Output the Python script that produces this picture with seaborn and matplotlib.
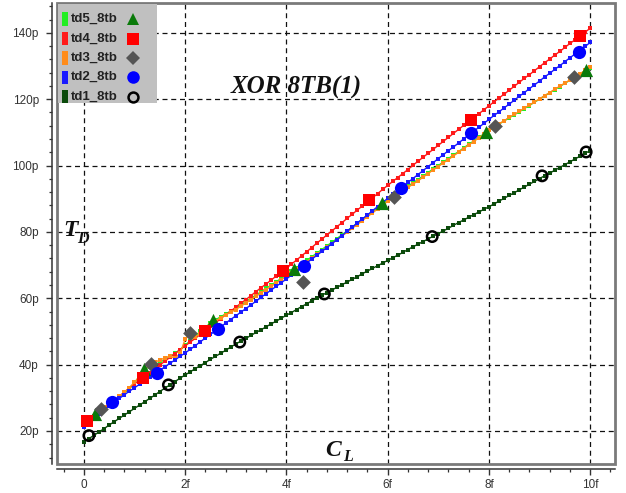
import numpy as np
import pandas as pd
import matplotlib
matplotlib.use("Agg")
import matplotlib.pyplot as plt
import seaborn as sns
from matplotlib.patches import Rectangle
from matplotlib.lines import Line2D
from matplotlib.ticker import MultipleLocator, FixedLocator, FixedFormatter

# ---------------- data (x in fF, y in ps) ----------------
cl = np.round(np.arange(0, 101) * 0.1, 1)  # load capacitance sweep 0..10f

td5 = [21.6, 22.9, 24.2, 25.5, 26.7, 27.9, 29.0, 30.2, 31.4, 32.7,
       34.3, 36.8, 38.6, 39.4, 40.0, 40.7, 41.5, 42.4, 43.4, 44.5,
       45.8, 47.2, 48.6, 50.0, 51.3, 52.5, 53.5, 54.4, 55.3, 56.1,
       57.0, 58.0, 59.0, 60.0, 61.0, 62.0, 63.0, 64.0, 65.0, 66.0,
       67.0, 68.1, 69.2, 70.3, 71.4, 72.5, 73.6, 74.7, 75.8, 76.9,
       78.0, 79.2, 80.3, 81.5, 82.6, 83.8, 85.0, 86.1, 87.3, 88.4,
       89.6, 90.6, 91.7, 92.7, 93.8, 94.8, 95.8, 96.9, 97.9, 99.0,
       100.0, 101.1, 102.1, 103.2, 104.2, 105.3, 106.4, 107.4, 108.5, 109.5,
       110.6, 111.5, 112.5, 113.4, 114.4, 115.3, 116.2, 117.2, 118.1, 119.1,
       120.0, 121.0, 121.9, 122.9, 123.8, 124.8, 125.7, 126.7, 127.6, 128.6,
       129.5]

td4 = [21.8, 23.0, 24.3, 25.5, 26.8, 28.0, 29.2, 30.5, 31.7, 33.0,
       34.2, 35.3, 36.5, 37.6, 38.8, 39.9, 41.0, 42.2, 43.3, 44.5,
       45.6, 46.8, 47.9, 49.1, 50.3, 51.5, 52.6, 53.8, 55.0, 56.1,
       57.3, 58.5, 59.6, 60.8, 62.0, 63.2, 64.3, 65.5, 66.7, 67.8,
       69.0, 70.3, 71.5, 72.8, 74.0, 75.3, 76.6, 77.8, 79.1, 80.3,
       81.6, 82.8, 84.1, 85.3, 86.6, 87.8, 89.0, 90.3, 91.5, 92.8,
       94.0, 95.2, 96.4, 97.6, 98.8, 100.1, 101.3, 102.5, 103.7, 104.9,
       106.1, 107.3, 108.5, 109.7, 110.9, 112.1, 113.2, 114.4, 115.6, 116.8,
       118.0, 119.2, 120.4, 121.5, 122.7, 123.9, 125.1, 126.3, 127.4, 128.6,
       129.8, 131.0, 132.1, 133.3, 134.4, 135.6, 136.8, 137.9, 139.1, 140.2,
       141.4]

td3 = [21.8, 23.2, 24.6, 25.9, 27.1, 28.2, 29.3, 30.4, 31.7, 33.1,
       34.7, 36.4, 38.2, 40.1, 40.7, 41.4, 42.0, 42.6, 41.9, 43.4,
       47.6, 49.6, 48.4, 49.2, 50.6, 52.0, 53.1, 54.1, 55.0, 55.8,
       56.6, 57.6, 58.6, 59.6, 60.6, 61.6, 62.6, 63.6, 64.6, 65.6,
       66.6, 67.7, 68.8, 69.9, 71.0, 72.1, 73.2, 74.3, 75.4, 76.5,
       77.6, 78.8, 79.9, 81.1, 82.2, 83.4, 84.6, 85.7, 86.9, 88.0,
       89.2, 90.2, 91.3, 92.3, 93.4, 94.4, 95.4, 96.5, 97.6, 98.7,
       99.7, 100.8, 101.8, 102.9, 104.0, 105.1, 106.2, 107.2, 108.4, 109.4,
       110.6, 111.6, 112.6, 113.5, 114.5, 115.4, 116.3, 117.3, 118.2, 119.2,
       120.1, 121.1, 122.0, 123.0, 123.9, 124.9, 125.8, 126.8, 127.7, 128.7,
       129.6]

td2 = [21.2, 22.5, 23.8, 25.0, 26.3, 27.5, 28.7, 29.8, 30.9, 32.0,
       33.0, 34.1, 35.1, 36.2, 37.2, 38.3, 39.3, 40.4, 41.4, 42.5,
       43.5, 44.6, 45.7, 46.9, 48.0, 49.1, 50.2, 51.3, 52.5, 53.6,
       54.7, 55.8, 56.9, 58.0, 59.1, 60.3, 61.4, 62.5, 63.6, 64.7,
       65.8, 67.0, 68.2, 69.4, 70.6, 71.8, 72.9, 74.1, 75.3, 76.5,
       77.7, 78.9, 80.2, 81.4, 82.7, 83.9, 85.1, 86.4, 87.6, 88.9,
       90.1, 91.3, 92.5, 93.7, 94.9, 96.1, 97.3, 98.5, 99.7, 100.9,
       102.1, 103.3, 104.5, 105.6, 106.8, 108.0, 109.2, 110.4, 111.5, 112.7,
       113.9, 115.1, 116.2, 117.4, 118.5, 119.7, 120.9, 122.0, 123.2, 124.3,
       125.5, 126.7, 127.8, 129.0, 130.1, 131.3, 132.5, 133.6, 134.8, 135.9,
       137.1]

td1 = [16.7, 17.7, 18.7, 19.7, 20.7, 21.8, 22.8, 23.8, 24.8, 25.8,
       26.8, 27.8, 28.8, 29.8, 30.8, 31.9, 32.9, 33.9, 34.9, 35.9,
       36.9, 37.8, 38.8, 39.7, 40.6, 41.6, 42.5, 43.4, 44.3, 45.3,
       46.2, 47.1, 47.9, 48.8, 49.7, 50.5, 51.4, 52.3, 53.1, 54.0,
       54.9, 55.7, 56.6, 57.5, 58.3, 59.2, 60.1, 60.9, 61.7, 62.5,
       63.3, 64.1, 64.9, 65.7, 66.5, 67.4, 68.2, 69.0, 69.8, 70.6,
       71.4, 72.2, 73.0, 73.8, 74.7, 75.5, 76.3, 77.1, 77.9, 78.7,
       79.5, 80.3, 81.1, 82.0, 82.8, 83.6, 84.4, 85.2, 86.0, 86.8,
       87.6, 88.4, 89.3, 90.1, 91.0, 91.8, 92.7, 93.5, 94.4, 95.2,
       96.1, 96.9, 97.7, 98.6, 99.4, 100.3, 101.1, 102.0, 102.8, 103.7,
       104.5]

# sparse identification markers
td5_mx = [0.22, 1.19, 2.56, 4.15, 5.88, 7.94, 9.92]
td5_my = [25.0, 38.8, 53.6, 68.7, 88.6, 110.0, 128.7]
td4_mx = [0.07, 1.17, 2.39, 3.93, 5.64, 7.64, 9.79]
td4_my = [22.9, 36.1, 50.2, 68.2, 89.5, 113.7, 139.1]
td3_mx = [0.34, 1.32, 2.09, 4.33, 6.13, 8.12, 9.69]
td3_my = [26.5, 40.3, 49.5, 65.0, 90.4, 111.8, 126.8]
td2_mx = [0.56, 1.44, 2.65, 4.35, 6.26, 7.65, 9.77]
td2_my = [28.6, 37.4, 50.8, 69.8, 93.2, 109.8, 134.3]
td1_mx = [0.10, 1.67, 3.08, 4.75, 6.88, 9.05, 9.92]
td1_my = [18.6, 33.9, 46.8, 61.3, 78.6, 96.9, 104.1]

series_names = ["td5_8tb", "td4_8tb", "td3_8tb", "td2_8tb", "td1_8tb"]
x_ticks = [0, 2, 4, 6, 8, 10]
x_labels = ["0", "2f", "4f", "6f", "8f", "10f"]
y_ticks = [20, 40, 60, 80, 100, 120, 140]
y_labels = ["20p", "40p", "60p", "80p", "100p", "120p", "140p"]
title = "XOR 8TB(1)"

# ---------------- styling ----------------
W, H = 626, 493
fig = plt.figure(figsize=(W / 100, H / 100), dpi=100)
fig.patch.set_facecolor("white")
L, R, T, B = 57, 615, 3, 464
ax = fig.add_axes([L / W, 1 - B / H, (R - L) / W, (B - T) / H])
ax.set_facecolor("white")

line_cols = ["#22ee22", "#ff1a1a", "#ff8c1a", "#1a1aff", "#0b4a0b"]
mk_face = ["#0a7a0a", "#ff0000", "#555555", "#0000ff", "none"]
mk_edge = ["#0a7a0a", "#ff0000", "#555555", "#0000ff", "#000000"]
mk_shape = ["^", "s", "D", "o", "o"]
mk_size = [9.5, 9.0, 7.5, 9.5, 7.5]

ys = [td5, td4, td3, td2, td1]
mxs = [td5_mx, td4_mx, td3_mx, td2_mx, td1_mx]
mys = [td5_my, td4_my, td3_my, td2_my, td1_my]

for i in range(5):
    df = pd.DataFrame({"cl": cl, "td": ys[i]})
    sns.lineplot(data=df, x="cl", y="td", ax=ax, color=line_cols[i],
                 linewidth=1.0, marker="s", markersize=2.7,
                 markeredgewidth=0, markerfacecolor=line_cols[i],
                 zorder=2 + i * 0.1, legend=False, sort=False)

for i in range(5):
    dm = pd.DataFrame({"cl": mxs[i], "td": mys[i]})
    if mk_face[i] == "none":
        sns.scatterplot(data=dm, x="cl", y="td", ax=ax, marker=mk_shape[i],
                        s=mk_size[i] ** 2, facecolors="none",
                        edgecolor=mk_edge[i], linewidth=1.8, zorder=4,
                        legend=False)
    else:
        sns.scatterplot(data=dm, x="cl", y="td", ax=ax, marker=mk_shape[i],
                        s=mk_size[i] ** 2, color=mk_face[i],
                        edgecolor=mk_edge[i], linewidth=0, zorder=4,
                        legend=False)

ax.set_xlim(-0.53, 10.49)
ax.set_ylim(10.05, 149.0)
ax.set_xlabel("")
ax.set_ylabel("")

ax.xaxis.set_major_locator(FixedLocator(x_ticks))
ax.xaxis.set_major_formatter(FixedFormatter(x_labels))
ax.xaxis.set_minor_locator(MultipleLocator(0.4))
ax.yaxis.set_major_locator(FixedLocator(y_ticks))
ax.yaxis.set_major_formatter(FixedFormatter(y_labels))
ax.yaxis.set_minor_locator(MultipleLocator(4))

ax.grid(True, which="major", color="#111111", linestyle=(0, (4, 3)),
        linewidth=0.9)
ax.set_axisbelow(True)

for s in ["top", "right"]:
    ax.spines[s].set_visible(False)
for s in ["left", "bottom"]:
    ax.spines[s].set_position(("outward", 3.6))
    ax.spines[s].set_color("#333333")
    ax.spines[s].set_linewidth(1.1)

ax.tick_params(axis="both", which="major", direction="out", length=4.5,
               width=1.0, color="#333333", labelsize=8.5,
               labelcolor="#333333")
ax.tick_params(axis="both", which="minor", direction="out", length=2.5,
               width=0.9, color="#333333")
ax.tick_params(axis="x", which="major", pad=3)
ax.tick_params(axis="y", which="major", pad=5)
for lab in ax.get_xticklabels() + ax.get_yticklabels():
    lab.set_fontfamily("Liberation Sans")

# plot frame
ax.add_patch(Rectangle((0, 0), 1, 1, transform=ax.transAxes, fill=False,
                       edgecolor="#7a7a7a", linewidth=2.0, clip_on=False,
                       zorder=6))


def fx(px):
    return px / W


def fy(py):
    return 1 - py / H


# title and axis annotations
fig.text(fx(296), fy(87), title, ha="center", va="center",
         fontfamily="Liberation Serif", fontweight="bold", fontstyle="italic",
         fontsize=18, color="#111111")
fig.text(fx(63), fy(231), "T", ha="left", va="center",
         fontfamily="Liberation Serif", fontweight="bold", fontstyle="italic",
         fontsize=17, color="#111111")
fig.text(fx(77), fy(239), "D", ha="left", va="center",
         fontfamily="Liberation Serif", fontweight="bold", fontstyle="italic",
         fontsize=11.5, color="#111111")
fig.text(fx(325), fy(450), "C", ha="left", va="center",
         fontfamily="Liberation Serif", fontweight="bold", fontstyle="italic",
         fontsize=17, color="#111111")
fig.text(fx(343), fy(457), "L", ha="left", va="center",
         fontfamily="Liberation Serif", fontweight="bold", fontstyle="italic",
         fontsize=11.5, color="#111111")

# legend box (drawn manually: swatch, label, marker)
fig.add_artist(Rectangle((fx(58), fy(103)), (157 - 58) / W, (103 - 4) / H,
                         transform=fig.transFigure, facecolor="#c0c0c0",
                         edgecolor="none", zorder=7))
row_y = [19, 38.5, 58, 77, 96.5]
for i in range(5):
    yy = row_y[i]
    fig.add_artist(Rectangle((fx(62), fy(yy + 6.5)), 6 / W, 13 / H,
                             transform=fig.transFigure,
                             facecolor=line_cols[i],
                             edgecolor="none", zorder=8))
    fig.text(fx(71), fy(yy), series_names[i], ha="left", va="center",
             fontfamily="Liberation Sans", fontweight="bold", fontsize=9.5,
             color="#222222", zorder=8)
    fig.add_artist(Line2D([fx(133)], [fy(yy)], transform=fig.transFigure,
                          marker=mk_shape[i], markersize=mk_size[i] * 0.95,
                          markerfacecolor=mk_face[i],
                          markeredgecolor=mk_edge[i],
                          markeredgewidth=1.8 if i == 4 else 0,
                          linestyle="none", zorder=9))

fig.savefig("out.png", dpi=100)
